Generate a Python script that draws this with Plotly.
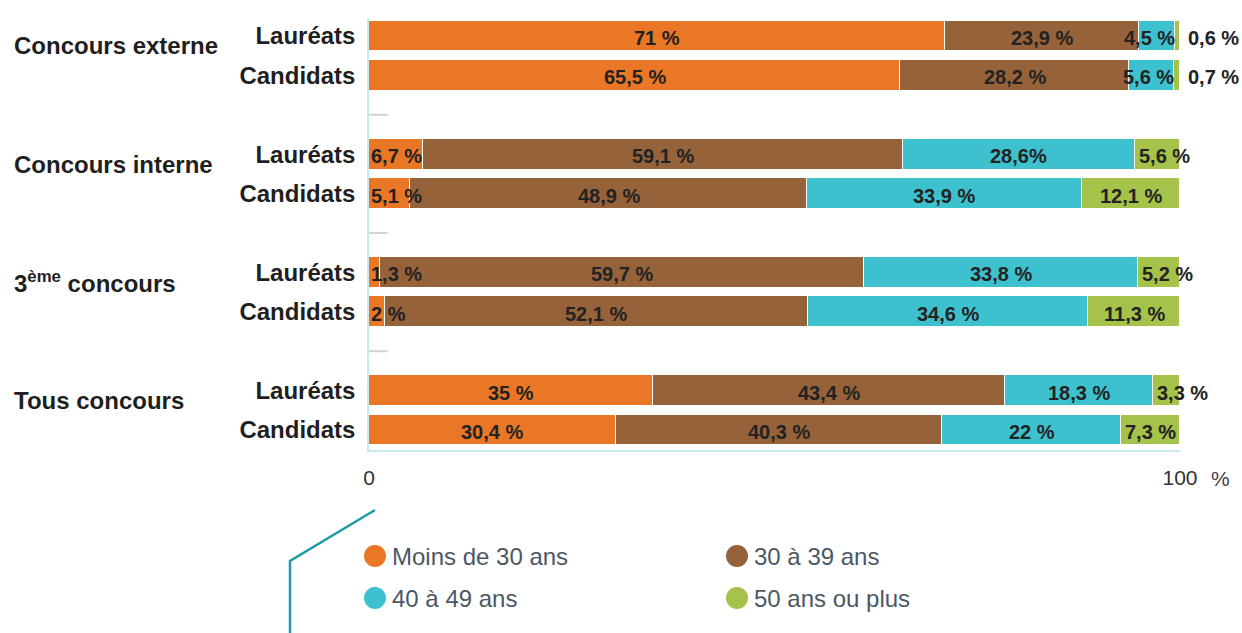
import plotly.graph_objects as go

# ---------------- data ----------------
groups = ["Concours externe", "Concours interne", "3<sup>ème</sup> concours", "Tous concours"]
rows = ["Lauréats", "Candidats"]
series_names = ["Moins de 30 ans", "30 à 39 ans", "40 à 49 ans", "50 ans ou plus"]
moins_30 = [71, 65.5, 6.7, 5.1, 1.3, 2, 35, 30.4]
de_30_39 = [23.9, 28.2, 59.1, 48.9, 59.7, 52.1, 43.4, 40.3]
de_40_49 = [4.5, 5.6, 28.6, 33.9, 33.8, 34.6, 18.3, 22]
plus_50 = [0.6, 0.7, 5.6, 12.1, 5.2, 11.3, 3.3, 7.3]
x_ticks = [0, 100]
x_ticktext = ["0", "100"]

colors = ["#E97726", "#96623A", "#3EC1CF", "#A5C24A"]
series = [moins_30, de_30_39, de_40_49, plus_50]

# slot positions: two bars per group, one empty slot between groups
slots = []
gap_slots = []
for g in range(len(groups)):
    base = g * (len(rows) + 1)
    for r in range(len(rows)):
        slots.append(base + r)
    if g < len(groups) - 1:
        gap_slots.append(base + len(rows))

W, H = 1242, 633
# plot area in screen pixels (body margin removed via post_script)
SL, SR, ST, SB = 369, 1180, 18, 450


def px_x(p):
    return (p - SL) / (SR - SL)


def px_y(p):
    return (SB - p) / (SB - ST)


def fmt(v):
    s = f"{v:g}".replace(".", ",")
    return s + " %"


fig = go.Figure()
for name, vals, col in zip(series_names, series, colors):
    fig.add_trace(go.Bar(
        y=slots, x=vals, orientation="h", name=name,
        marker=dict(color=col, line=dict(color="white", width=1.5)),
        width=0.78, showlegend=False, hoverinfo="x+name",
    ))

annotations = []
# bar value labels
for bi in range(len(slots)):
    start = 0.0
    for si, vals in enumerate(series):
        v = vals[bi]
        txt = fmt(v)
        if si == 2 and bi == 2:
            txt = txt.replace(" %", "%")
        if v >= 8:
            ax, xa, xs = start + v / 2, "center", 0
        elif si == 0:
            ax, xa, xs = start, "left", 0
        elif si == 3 and v < 2:
            ax, xa, xs = 100, "left", 6
        elif si == 3:
            ax, xa, xs = start, "left", 2
        else:
            ax, xa, xs = start + v, "right", 2
        annotations.append(dict(
            x=ax, y=slots[bi], xref="x", yref="y", text=f"<b>{txt}</b>",
            showarrow=False, xanchor=xa, xshift=xs, yshift=-2,
            font=dict(family="Liberation Sans", size=20, color="#222222"),
        ))
        start += v

# group labels
for g, gname in enumerate(groups):
    annotations.append(dict(
        x=px_x(12), xref="paper", y=slots[g * len(rows)] + 0.25, yref="y",
        text=f"<b>{gname}</b>", showarrow=False, xanchor="left",
        font=dict(family="Liberation Sans", size=24, color="#1f1f1f"),
    ))

# "%" unit on x axis
annotations.append(dict(
    x=100, xref="x", y=px_y(479), yref="paper", xshift=40,
    text="%", showarrow=False, xanchor="center", yanchor="middle",
    font=dict(family="Liberation Sans", size=21, color="#444444"),
))

shapes = []
# short gray marks in gap slots
for gs in gap_slots:
    shapes.append(dict(type="line", xref="x", yref="y", x0=0, x1=2.3, y0=gs, y1=gs,
                       line=dict(color="#d3d3d3", width=2)))

# manual legend
leg_pos = [(375, 556), (737, 556), (375, 598), (737, 598)]
for (cx, cy), name, col in zip(leg_pos, series_names, colors):
    shapes.append(dict(type="circle", xref="paper", yref="paper",
                       xsizemode="pixel", ysizemode="pixel",
                       xanchor=px_x(cx), yanchor=px_y(cy),
                       x0=-11, x1=11, y0=-11, y1=11,
                       fillcolor=col, line=dict(width=0)))
    annotations.append(dict(
        x=px_x(cx + 15), xref="paper", y=px_y(cy), yref="paper",
        text=name, showarrow=False, xanchor="left", yanchor="middle",
        font=dict(family="Liberation Sans", size=24, color="#4a5864"),
    ))

# decorative teal line
path = (f"M {px_x(375)} {px_y(510)} L {px_x(290)} {px_y(561)} "
        f"L {px_x(290)} {px_y(640)}")
shapes.append(dict(type="path", xref="paper", yref="paper", path=path,
                   line=dict(color="#1f9aa6", width=2.5)))

fig.update_layout(
    width=W, height=H,
    margin=dict(l=SL, r=W - SR, t=ST, b=H - SB, pad=0),
    barmode="stack",
    bargap=0,
    plot_bgcolor="white", paper_bgcolor="white",
    font=dict(family="Liberation Sans", color="#222222"),
    xaxis=dict(range=[0, 100], tickvals=x_ticks, ticktext=x_ticktext,
               showgrid=False, zeroline=False, showline=True,
               linecolor="#c9e9f0", linewidth=1.5, ticks="",
               ticklabelstandoff=8,
               tickfont=dict(size=21, color="#333333")),
    yaxis=dict(range=[10 + (SB - 430) / 39.4, -(36 - ST) / 39.4],
               tickvals=slots, ticktext=[f"<b>{r}</b>" for r in rows] * len(groups),
               showgrid=False, zeroline=False, showline=True,
               linecolor="#c9e9f0", linewidth=1.5, ticks="",
               ticklabelstandoff=7,
               tickfont=dict(size=24, color="#1f1f1f")),
    annotations=annotations,
    shapes=shapes,
    showlegend=False,
)

fig.write_html(
    "out.html",
    config={"displayModeBar": False},
    post_script="document.body.style.margin='0';document.body.style.overflow='hidden';",
)
